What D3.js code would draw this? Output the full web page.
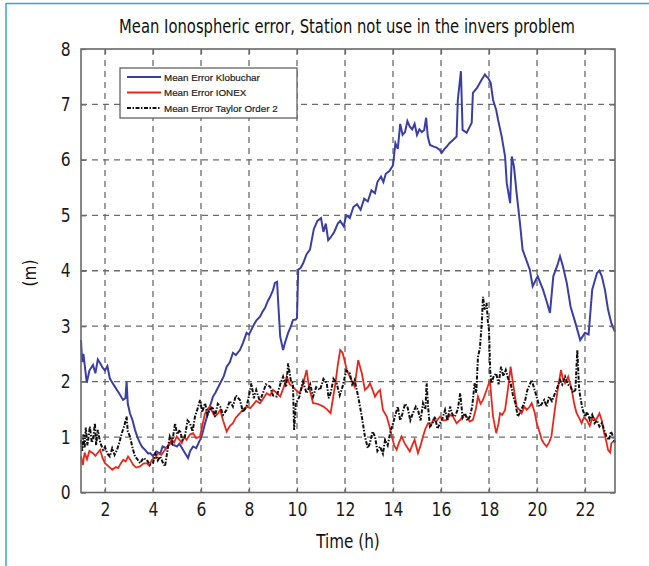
<!DOCTYPE html>
<html>
<head>
<meta charset="utf-8">
<script src="https://cdn.jsdelivr.net/npm/d3@7"></script>
<style>
  body { margin: 0; background: #fff; }
  svg { display: block; }
</style>
</head>
<body>
<div id="chart"></div>
<script>
// Chart size
const w = 649;
const h = 566;

// Axis ticks
const xTicks = [2, 4, 6, 8, 10, 12, 14, 16, 18, 20, 22];
const yTicks = [0, 1, 2, 3, 4, 5, 6, 7, 8];

// Series labels
const seriesNames = ["Mean Error Klobuchar", "Mean Error IONEX", "Mean Error Taylor Order 2"];

// Mean Error Klobuchar [hour, metres]
const klobuchar = [
  [1.0, 2.75], [1.05, 2.35], [1.1, 2.5], [1.24, 1.98], [1.35, 2.2], [1.5, 2.3], [1.6, 2.15], [1.7, 2.4],
  [1.8, 2.33], [1.9, 2.25], [2.0, 2.2], [2.1, 2.28], [2.2, 2.06], [2.35, 1.95], [2.5, 1.85], [2.6, 1.78],
  [2.75, 1.67], [2.85, 1.7], [2.9, 2.0], [2.95, 1.6], [3.04, 1.43], [3.15, 1.3], [3.25, 1.13], [3.35, 1.0],
  [3.46, 0.89], [3.55, 0.82], [3.67, 0.77], [3.8, 0.7], [3.88, 0.71], [4.0, 0.66], [4.15, 0.74], [4.3, 0.7],
  [4.4, 0.83], [4.55, 0.8], [4.7, 0.89], [4.85, 0.86], [5.0, 0.83], [5.1, 0.88], [5.25, 0.77], [5.35, 0.7],
  [5.46, 0.62], [5.55, 0.75], [5.67, 0.83], [5.8, 0.8], [5.96, 0.95], [6.05, 1.05], [6.17, 1.25], [6.27, 1.4],
  [6.37, 1.55], [6.5, 1.73], [6.6, 1.8], [6.8, 1.97], [6.95, 2.1], [7.07, 2.27], [7.2, 2.35], [7.33, 2.52],
  [7.45, 2.48], [7.62, 2.57], [7.75, 2.7], [7.9, 2.88], [8.0, 2.85], [8.17, 3.0], [8.3, 3.1], [8.46, 3.17],
  [8.55, 3.25], [8.67, 3.33], [8.78, 3.45], [8.88, 3.53], [9.0, 3.65], [9.08, 3.78], [9.17, 3.8], [9.22, 3.4],
  [9.3, 2.81], [9.42, 2.57], [9.5, 2.7], [9.63, 2.88], [9.75, 3.0], [9.83, 3.11], [9.95, 3.12], [10.0, 3.15],
  [10.05, 4.02], [10.15, 4.05], [10.26, 4.14], [10.4, 4.3], [10.54, 4.38], [10.7, 4.75], [10.85, 4.9],
  [11.0, 4.95], [11.1, 4.7], [11.2, 4.85], [11.3, 4.55], [11.4, 4.6], [11.55, 4.7], [11.7, 4.85], [11.8, 4.9],
  [11.95, 4.8], [12.05, 5.0], [12.2, 4.95], [12.35, 5.15], [12.5, 5.2], [12.65, 5.1], [12.8, 5.3], [12.95, 5.25],
  [13.1, 5.45], [13.25, 5.4], [13.35, 5.6], [13.5, 5.7], [13.6, 5.6], [13.7, 5.75], [13.85, 5.8], [14.0, 5.9],
  [14.1, 6.3], [14.2, 6.2], [14.3, 6.65], [14.4, 6.45], [14.5, 6.5], [14.6, 6.7], [14.7, 6.6], [14.8, 6.55],
  [14.9, 6.65], [15.0, 6.45], [15.1, 6.55], [15.2, 6.5], [15.3, 6.54], [15.38, 6.76], [15.45, 6.42],
  [15.54, 6.27], [15.7, 6.24], [15.82, 6.22], [15.95, 6.18], [16.03, 6.13], [16.15, 6.2], [16.24, 6.24],
  [16.35, 6.3], [16.5, 6.36], [16.65, 6.42], [16.7, 7.08], [16.83, 7.6], [16.9, 6.54], [17.07, 6.49],
  [17.2, 6.6], [17.28, 6.67], [17.33, 7.21], [17.5, 7.3], [17.54, 7.33], [17.7, 7.45], [17.83, 7.54],
  [17.9, 7.5], [17.96, 7.48], [18.07, 7.39], [18.17, 7.08], [18.3, 6.9], [18.38, 6.72], [18.53, 6.42],
  [18.67, 6.06], [18.74, 5.58], [18.88, 5.22], [18.95, 6.06], [19.04, 5.88], [19.15, 5.4], [19.29, 4.86],
  [19.4, 4.38], [19.55, 4.2], [19.7, 4.02], [19.82, 3.72], [20.03, 3.9], [20.25, 3.66], [20.4, 3.45],
  [20.54, 3.24], [20.68, 3.9], [20.85, 4.1], [20.96, 4.26], [21.08, 4.08], [21.24, 3.78], [21.4, 3.35],
  [21.6, 3.06], [21.8, 2.75], [22.0, 2.88], [22.15, 2.85], [22.3, 3.66], [22.5, 3.96], [22.6, 4.0],
  [22.7, 3.9], [22.83, 3.66], [22.96, 3.3], [23.1, 3.05], [23.25, 2.9]
];

// Mean Error IONEX [hour, metres]
const ionex = [
  [1.0, 0.65], [1.08, 0.5], [1.15, 0.72], [1.25, 0.6], [1.35, 0.75], [1.5, 0.71], [1.6, 0.66], [1.8, 0.77],
  [1.9, 0.62], [2.0, 0.53], [2.15, 0.47], [2.3, 0.41], [2.45, 0.46], [2.55, 0.44], [2.65, 0.52], [2.76, 0.59],
  [2.86, 0.56], [2.96, 0.65], [3.07, 0.58], [3.17, 0.5], [3.3, 0.45], [3.46, 0.47], [3.6, 0.52], [3.74, 0.53],
  [3.85, 0.48], [3.95, 0.59], [4.1, 0.62], [4.2, 0.71], [4.35, 0.68], [4.5, 0.77], [4.65, 0.85], [4.78, 0.95],
  [4.88, 0.9], [4.99, 1.01], [5.1, 0.95], [5.2, 0.89], [5.3, 1.0], [5.4, 0.95], [5.55, 1.05], [5.67, 1.07],
  [5.8, 0.98], [5.96, 1.01], [6.05, 1.2], [6.17, 1.43], [6.27, 1.5], [6.37, 1.55], [6.48, 1.45],
  [6.58, 1.37], [6.7, 1.42], [6.8, 1.49], [6.92, 1.3], [7.07, 1.1], [7.2, 1.2], [7.33, 1.25], [7.45, 1.35],
  [7.62, 1.43], [7.75, 1.5], [7.9, 1.55], [8.05, 1.52], [8.17, 1.58], [8.3, 1.65], [8.46, 1.61], [8.6, 1.7],
  [8.74, 1.79], [8.88, 1.75], [9.0, 1.85], [9.15, 1.8], [9.3, 1.73], [9.45, 1.9], [9.57, 2.09], [9.7, 1.95],
  [9.83, 1.91], [9.95, 1.85], [10.1, 1.79], [10.25, 1.95], [10.4, 2.21], [10.5, 1.9], [10.67, 1.61],
  [10.85, 1.6], [11.1, 1.55], [11.25, 1.5], [11.4, 1.43], [11.5, 1.7], [11.6, 1.97], [11.7, 2.3],
  [11.8, 2.57], [11.9, 2.52], [12.0, 2.35], [12.07, 2.21], [12.2, 2.09], [12.3, 2.0], [12.4, 1.91],
  [12.55, 2.39], [12.7, 2.15], [12.83, 1.85], [12.95, 1.9], [13.04, 1.97], [13.15, 1.85], [13.25, 1.73],
  [13.35, 1.8], [13.46, 1.85], [13.58, 1.49], [13.74, 1.37], [13.85, 1.2], [13.95, 1.01], [14.05, 0.85],
  [14.15, 0.77], [14.25, 0.9], [14.36, 1.01], [14.47, 0.9], [14.57, 0.83], [14.7, 0.74], [14.8, 0.85],
  [14.9, 0.95], [15.04, 0.71], [15.15, 0.85], [15.25, 1.01], [15.35, 1.15], [15.46, 1.25], [15.57, 1.2],
  [15.67, 1.31], [15.8, 1.28], [15.96, 1.37], [16.1, 1.3], [16.24, 1.31], [16.38, 1.4], [16.5, 1.37],
  [16.65, 1.25], [16.8, 1.31], [16.95, 1.4], [17.07, 1.37], [17.2, 1.28], [17.33, 1.31], [17.45, 1.5],
  [17.54, 1.73], [17.65, 1.6], [17.75, 1.67], [17.9, 1.85], [18.04, 2.03], [18.1, 1.7], [18.17, 1.37],
  [18.3, 1.07], [18.4, 1.25], [18.46, 1.43], [18.55, 1.4], [18.67, 1.49], [18.8, 1.9], [18.9, 2.27],
  [19.0, 1.97], [19.15, 1.55], [19.25, 1.5], [19.36, 1.43], [19.47, 1.55], [19.57, 1.49], [19.7, 1.55],
  [19.78, 1.61], [19.9, 1.45], [19.99, 1.25], [20.1, 1.1], [20.2, 0.95], [20.3, 0.88], [20.4, 0.83],
  [20.5, 0.9], [20.6, 1.01], [20.7, 1.35], [20.8, 1.67], [20.9, 1.95], [21.0, 2.21], [21.08, 2.05],
  [21.17, 1.97], [21.3, 2.09], [21.45, 1.85], [21.55, 1.6], [21.65, 1.43], [21.75, 1.35], [21.86, 1.25],
  [21.95, 1.35], [22.07, 1.31], [22.2, 1.2], [22.33, 1.37], [22.45, 1.3], [22.6, 1.43], [22.7, 1.3],
  [22.8, 1.07], [22.9, 0.9], [22.96, 0.77], [23.05, 0.72], [23.1, 0.89], [23.25, 0.95]
];

// Mean Error Taylor Order 2 [hour, metres]
const taylor = [
  [1.0, 0.95], [1.05, 0.75], [1.1, 1.05], [1.15, 0.8], [1.2, 1.17], [1.27, 0.85], [1.37, 1.19], [1.45, 0.9],
  [1.5, 0.95], [1.58, 1.25], [1.63, 0.85], [1.7, 1.13], [1.8, 0.9], [1.92, 0.77], [2.0, 0.82], [2.1, 0.7],
  [2.2, 0.65], [2.3, 0.8], [2.4, 0.68], [2.5, 0.77], [2.6, 0.9], [2.7, 1.07], [2.8, 1.2], [2.9, 1.37],
  [2.95, 1.1], [3.04, 1.01], [3.15, 0.8], [3.25, 0.65], [3.35, 0.6], [3.46, 0.53], [3.6, 0.62], [3.74, 0.59],
  [3.87, 0.5], [4.0, 0.53], [4.1, 0.7], [4.2, 0.58], [4.3, 0.65], [4.4, 0.55], [4.5, 0.47], [4.6, 0.75],
  [4.7, 1.01], [4.8, 0.9], [4.92, 1.25], [5.0, 1.05], [5.12, 1.13], [5.22, 0.95], [5.33, 1.01], [5.44, 1.3],
  [5.54, 1.25], [5.65, 1.1], [5.75, 1.37], [5.85, 1.5], [5.96, 1.67], [6.05, 1.45], [6.17, 1.61],
  [6.27, 1.4], [6.37, 1.49], [6.48, 1.55], [6.58, 1.37], [6.7, 1.6], [6.8, 1.55], [6.92, 1.4], [7.07, 1.49],
  [7.2, 1.65], [7.33, 1.55], [7.45, 1.75], [7.62, 1.67], [7.75, 1.45], [7.9, 1.55], [8.0, 1.75],
  [8.1, 1.97], [8.2, 1.7], [8.3, 1.85], [8.45, 1.65], [8.58, 1.79], [8.7, 1.95], [8.88, 1.91], [9.0, 1.75],
  [9.15, 1.73], [9.3, 1.95], [9.42, 2.09], [9.55, 1.9], [9.63, 2.33], [9.75, 2.0], [9.83, 1.97],
  [9.88, 1.13], [9.95, 1.6], [10.1, 1.73], [10.25, 2.0], [10.4, 1.79], [10.55, 1.95], [10.67, 1.73],
  [10.8, 1.9], [10.96, 1.85], [11.1, 2.05], [11.24, 1.97], [11.32, 1.7], [11.4, 1.79], [11.52, 2.05],
  [11.65, 1.97], [11.78, 1.75], [11.9, 1.91], [12.05, 2.2], [12.2, 2.15], [12.3, 1.95], [12.4, 2.03],
  [12.55, 1.73], [12.7, 1.37], [12.83, 1.01], [12.95, 0.8], [13.04, 0.89], [13.15, 1.1], [13.25, 1.01],
  [13.35, 0.75], [13.46, 0.83], [13.58, 0.7], [13.67, 0.95], [13.78, 0.85], [13.88, 1.07], [14.0, 1.25],
  [14.08, 1.37], [14.2, 1.55], [14.3, 1.3], [14.4, 1.43], [14.5, 1.6], [14.6, 1.55], [14.72, 1.3],
  [14.83, 1.43], [14.95, 1.55], [15.04, 1.49], [15.15, 1.3], [15.25, 1.61], [15.35, 1.5], [15.4, 1.97],
  [15.47, 1.5], [15.54, 1.19], [15.65, 1.25], [15.75, 1.37], [15.85, 1.15], [15.96, 1.25], [16.07, 1.35],
  [16.17, 1.49], [16.27, 1.3], [16.38, 1.55], [16.48, 1.4], [16.58, 1.37], [16.7, 1.5], [16.8, 1.79],
  [16.9, 1.35], [17.0, 1.43], [17.1, 1.3], [17.2, 1.37], [17.3, 1.55], [17.4, 1.97], [17.47, 1.8],
  [17.54, 2.45], [17.62, 2.6], [17.7, 3.06], [17.75, 3.53], [17.82, 3.3], [17.9, 3.42], [17.95, 3.1],
  [18.0, 2.93], [18.05, 2.2], [18.1, 1.97], [18.2, 2.1], [18.3, 2.15], [18.4, 1.95], [18.5, 2.27],
  [18.6, 2.1], [18.7, 2.21], [18.8, 2.05], [18.9, 1.97], [19.0, 1.75], [19.1, 1.61], [19.2, 1.37],
  [19.3, 1.45], [19.4, 1.55], [19.5, 1.65], [19.6, 1.85], [19.7, 1.95], [19.78, 2.03], [19.9, 1.85],
  [20.0, 1.7], [20.1, 1.55], [20.2, 1.6], [20.3, 1.67], [20.4, 1.55], [20.5, 1.73], [20.62, 1.65],
  [20.75, 1.79], [20.85, 1.9], [20.96, 2.03], [21.05, 1.95], [21.17, 2.09], [21.28, 1.95], [21.4, 1.91],
  [21.5, 1.8], [21.6, 1.85], [21.68, 2.57], [21.75, 1.9], [21.8, 1.73], [21.9, 1.5], [22.0, 1.37],
  [22.1, 1.45], [22.2, 1.31], [22.3, 1.4], [22.4, 1.25], [22.5, 1.3], [22.6, 1.19], [22.7, 1.25],
  [22.8, 1.13], [22.9, 1.0], [23.0, 0.95], [23.08, 1.1], [23.17, 1.01], [23.25, 0.9]
];

const svg = d3.select("#chart").append("svg")
  .attr("width", w)
  .attr("height", h);

svg.append("rect").attr("width", w).attr("height", h).attr("fill", "#fff");

// page frame (light blue)
svg.append("line").attr("x1", 6).attr("x2", w).attr("y1", 3.5).attr("y2", 3.5)
  .attr("stroke", "#3aa4cc").attr("stroke-width", 1.5);
svg.append("line").attr("x1", 6).attr("x2", 6).attr("y1", 3).attr("y2", h)
  .attr("stroke", "#3aa4cc").attr("stroke-width", 1.5);

// plot area
const plotLeft = 81, plotRight = 615, plotTop = 49, plotBottom = 492.5;

const x = d3.scaleLinear().domain([1, 23.25]).range([plotLeft, plotRight]);
const y = d3.scaleLinear().domain([0, 8]).range([plotBottom, plotTop]);

const gridColor = "#6b6b6b";
const labelFont = "\"DejaVu Sans\", sans-serif";

// dashed grid
svg.append("g").selectAll("line")
  .data(xTicks)
  .join("line")
  .attr("x1", d => x(d)).attr("x2", d => x(d))
  .attr("y1", plotTop).attr("y2", plotBottom)
  .attr("stroke", gridColor).attr("stroke-width", 1.3)
  .attr("stroke-dasharray", "6,5");

svg.append("g").selectAll("line")
  .data(yTicks.filter(d => d > 0 && d < 8))
  .join("line")
  .attr("x1", plotLeft).attr("x2", plotRight)
  .attr("y1", d => y(d)).attr("y2", d => y(d))
  .attr("stroke", gridColor).attr("stroke-width", 1.3)
  .attr("stroke-dasharray", "6,5");

// series lines
const line = d3.line().x(d => x(d[0])).y(d => y(d[1]));

svg.append("path").datum(klobuchar)
  .attr("d", line).attr("fill", "none")
  .attr("stroke", "#3b3fa3").attr("stroke-width", 2);

svg.append("path").datum(ionex)
  .attr("d", line).attr("fill", "none")
  .attr("stroke", "#e8281c").attr("stroke-width", 1.8);

svg.append("path").datum(taylor)
  .attr("d", line).attr("fill", "none")
  .attr("stroke", "#111").attr("stroke-width", 2)
  .attr("stroke-dasharray", "4,1.5,1.5,1.5");

// axes box and tick marks
const xAxisBottom = d3.axisBottom(x).tickValues(xTicks).tickSize(-5).tickPadding(10);
const xAxisTop = d3.axisTop(x).tickValues(xTicks).tickSize(-5).tickFormat("");
const yAxisLeft = d3.axisLeft(y).tickValues(yTicks).tickSize(-5).tickPadding(9);
const yAxisRight = d3.axisRight(y).tickValues(yTicks).tickSize(-5).tickFormat("");

function styleAxis(g) {
  g.select(".domain").remove();
  g.selectAll(".tick line").attr("stroke", gridColor).attr("stroke-width", 1.3);
  g.selectAll(".tick text")
    .attr("fill", "#1a1a1a")
    .style("font-family", labelFont)
    .style("font-size", "19px");
}

svg.append("g").attr("transform", `translate(0,${plotBottom})`).call(xAxisBottom).call(styleAxis)
  .selectAll(".tick text").attr("transform", "scale(0.82,1)");
svg.append("g").attr("transform", `translate(0,${plotTop})`).call(xAxisTop).call(styleAxis);
svg.append("g").attr("transform", `translate(${plotLeft},0)`).call(yAxisLeft).call(styleAxis)
  .selectAll(".tick text").attr("x", -9).attr("transform", "translate(-3,0) scale(0.82,1)");
svg.append("g").attr("transform", `translate(${plotRight},0)`).call(yAxisRight).call(styleAxis);

svg.append("rect")
  .attr("x", plotLeft).attr("y", plotTop)
  .attr("width", plotRight - plotLeft).attr("height", plotBottom - plotTop)
  .attr("fill", "none").attr("stroke", "#6a6a6a").attr("stroke-width", 1.6);

// legend
const lg = svg.append("g");
lg.append("rect")
  .attr("x", 120).attr("y", 68).attr("width", 177).attr("height", 50)
  .attr("fill", "#fff").attr("stroke", "#555").attr("stroke-width", 1.2);

const legendStyles = [
  { color: "#3b3fa3", dash: null },
  { color: "#e8281c", dash: null },
  { color: "#111", dash: "4,1.5,1.5,1.5" }
];

seriesNames.forEach((name, i) => {
  const ly = 77 + i * 15.5;
  lg.append("line")
    .attr("x1", 127).attr("x2", 161).attr("y1", ly).attr("y2", ly)
    .attr("stroke", legendStyles[i].color).attr("stroke-width", 2)
    .attr("stroke-dasharray", legendStyles[i].dash);
  lg.append("text")
    .attr("x", 164).attr("y", ly + 3.5)
    .attr("font-family", "\"Liberation Sans\", Arial, sans-serif")
    .attr("font-size", "9.8px")
    .attr("fill", "#222")
    .attr("stroke", "#222").attr("stroke-width", 0.2)
    .text(name);
});

// title and axis labels (horizontally condensed to match the narrow face)
svg.append("text")
  .attr("transform", "translate(347,33) scale(0.74,1)")
  .attr("text-anchor", "middle")
  .attr("font-family", labelFont)
  .attr("font-size", "20px")
  .attr("fill", "#111")
  .text("Mean Ionospheric error, Station not use in the invers problem");

svg.append("text")
  .attr("transform", "translate(348,548) scale(0.8,1)")
  .attr("text-anchor", "middle")
  .attr("font-family", labelFont)
  .attr("font-size", "19px")
  .attr("fill", "#111")
  .text("Time (h)");

svg.append("text")
  .attr("transform", "translate(36,273) rotate(-90) scale(0.9,1)")
  .attr("text-anchor", "middle")
  .attr("font-family", labelFont)
  .attr("font-size", "17px")
  .attr("fill", "#111")
  .text("(m)");
</script>
</body>
</html>
